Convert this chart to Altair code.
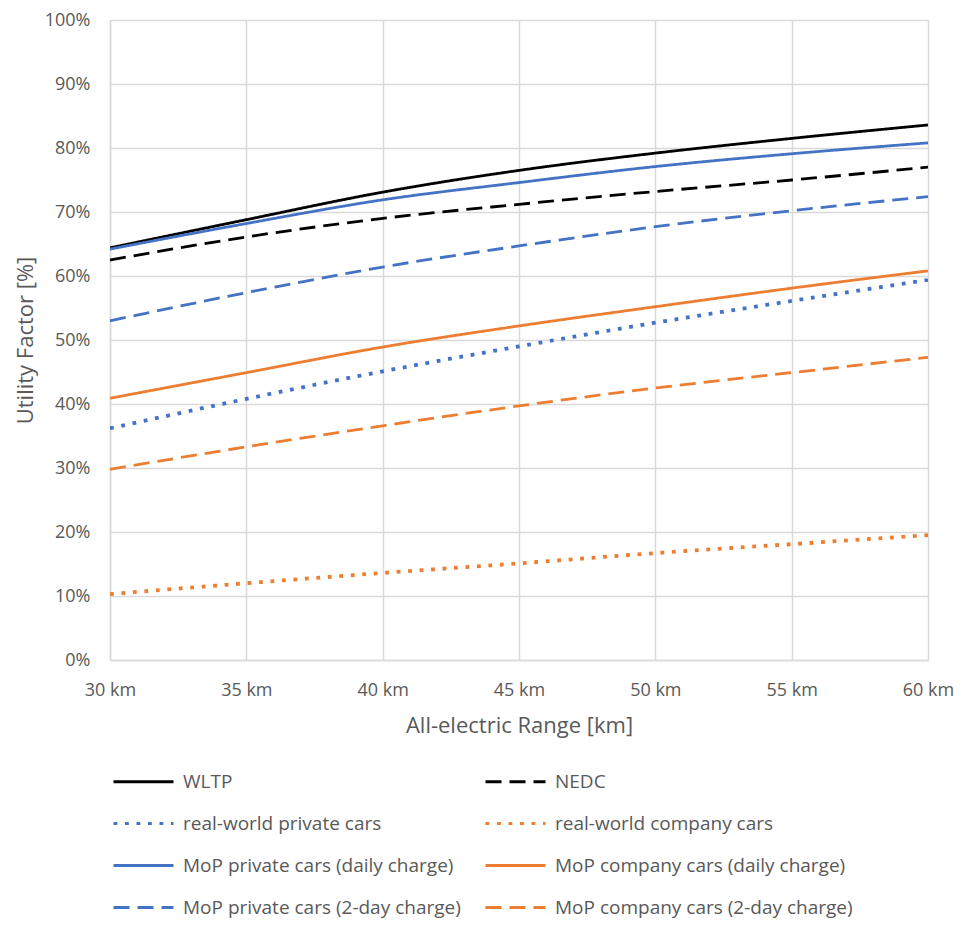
import altair as alt
import pandas as pd

# Data
ranges_km = [30, 35, 40, 45, 50, 55, 60]

# Legend is filled column by column: left column first, then right column
series_names = [
    "WLTP",
    "real-world private cars",
    "MoP private cars (daily charge)",
    "MoP private cars (2-day charge)",
    "NEDC",
    "real-world company cars",
    "MoP company cars (daily charge)",
    "MoP company cars (2-day charge)",
]

wltp = [64.4, 68.8, 73.1, 76.5, 79.2, 81.5, 83.6]
rw_private = [36.2, 40.8, 45.1, 49.0, 52.7, 56.1, 59.4]
mop_private_daily = [64.2, 68.2, 71.9, 74.6, 77.1, 79.1, 80.8]
mop_private_2day = [53.0, 57.4, 61.4, 64.7, 67.7, 70.2, 72.4]
nedc = [62.5, 66.1, 69.0, 71.2, 73.2, 75.0, 77.0]
rw_company = [10.3, 12.0, 13.6, 15.1, 16.7, 18.1, 19.5]
mop_company_daily = [40.9, 44.9, 48.9, 52.2, 55.2, 58.1, 60.8]
mop_company_2day = [29.8, 33.3, 36.6, 39.7, 42.5, 44.9, 47.3]

series_values = [wltp, rw_private, mop_private_daily, mop_private_2day,
                 nedc, rw_company, mop_company_daily, mop_company_2day]

series_colors = ["#000000", "#4472C4", "#4472C4", "#4472C4",
                 "#000000", "#ED7D31", "#ED7D31", "#ED7D31"]
solid = [1, 0]
dotted = [3.8, 7.7]
dashed = [16, 8]
series_dashes = [solid, dotted, solid, dashed, dashed, dotted, solid, dashed]
series_widths = [2.8, 3.8, 2.8, 2.8, 2.8, 3.8, 2.8, 2.8]

rows = []
for name, vals, w in zip(series_names, series_values, series_widths):
    for x, v in zip(ranges_km, vals):
        rows.append({"series": name, "range": x, "uf": v, "w": w})
df = pd.DataFrame(rows)

FONT = "Open Sans"
GREY = "#595959"
GRID = "#d9d9d9"

legend = alt.Legend(
    title=None,
    orient="none",
    legendX=2,
    legendY=730,
    columns=2,
    columnPadding=18,
    rowPadding=0,
    symbolType="stroke",
    symbolSize=3600,
    symbolStrokeWidth=3,
    labelFont=FONT,
    labelFontSize=19,
    labelColor=GREY,
    labelOffset=8,
    labelLimit=500,
    padding=0,
)

chart = (
    alt.Chart(df)
    .mark_line(interpolate="monotone", clip=True)
    .encode(
        x=alt.X(
            "range:Q",
            scale=alt.Scale(domain=[30, 60], nice=False, zero=False),
            axis=alt.Axis(
                values=ranges_km,
                labelExpr="datum.value + ' km'",
                labelFlush=False,
                title="All-electric Range [km]",
                titlePadding=16,
                labelPadding=21,
            ),
        ),
        y=alt.Y(
            "uf:Q",
            scale=alt.Scale(domain=[0, 100], nice=False),
            axis=alt.Axis(
                values=[0, 10, 20, 30, 40, 50, 60, 70, 80, 90, 100],
                labelExpr="datum.value + '%'",
                labelFlush=False,
                title="Utility Factor [%]",
                titlePadding=7,
                labelPadding=20,
            ),
        ),
        color=alt.Color(
            "series:N",
            sort=series_names,
            scale=alt.Scale(domain=series_names, range=series_colors),
            legend=legend,
        ),
        strokeDash=alt.StrokeDash(
            "series:N",
            sort=series_names,
            scale=alt.Scale(domain=series_names, range=series_dashes),
            legend=legend,
        ),
        strokeWidth=alt.StrokeWidth("w:Q", scale=None, legend=None),
        detail="series:N",
    )
    .properties(
        width=818,
        height=640,
        autosize=alt.AutoSizeParams(type="none"),
        padding={"left": 102, "top": 12, "right": 27, "bottom": 258},
    )
    .configure_view(stroke=None)
    .configure_axis(
        labelFont=FONT,
        labelFontSize=18,
        labelColor=GREY,
        titleFont=FONT,
        titleFontSize=22,
        titleFontWeight="normal",
        titleColor=GREY,
        grid=True,
        gridColor=GRID,
        gridWidth=1.5,
        domainColor=GRID,
        domainWidth=1.5,
        ticks=False,
    )
)

chart.save("out.html", embed_options={"renderer": "svg", "actions": False})
